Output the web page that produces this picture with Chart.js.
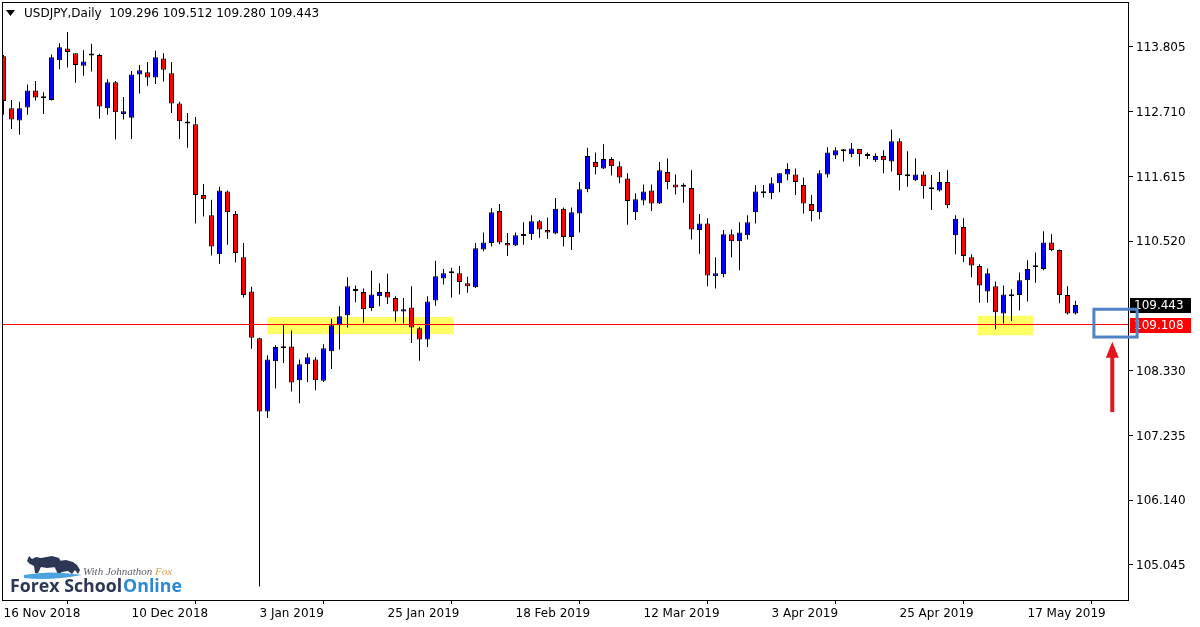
<!DOCTYPE html>
<html>
<head>
<meta charset="utf-8">
<title>USDJPY Daily</title>
<script src="https://cdn.jsdelivr.net/npm/chart.js@4.4.0/dist/chart.umd.min.js"></script>
<style>
body{margin:0;background:#fff;}
canvas{display:block;}
</style>
</head>
<body>
<canvas id="myChart" width="1200" height="627"></canvas>
<script>
// daily candles 16 Nov 2018 -> 22 May 2019
var opens=[113.65,112.77,112.56,112.78,113.07,112.95,112.91,113.58,113.78,113.70,
113.49,113.66,113.67,112.77,113.21,112.67,112.61,113.34,113.38,113.29,
113.61,113.36,112.85,112.52,112.50,111.30,110.96,110.30,111.36,110.98,
110.25,109.67,108.88,107.64,108.49,108.71,108.74,108.17,108.44,108.52,
108.16,108.66,109.10,109.27,109.68,109.66,109.39,109.59,109.66,109.56,
109.33,109.40,109.05,108.86,109.52,109.89,109.98,109.98,109.81,109.74,
110.38,110.49,111.03,110.49,110.45,110.61,110.64,110.86,110.71,110.65,
111.07,110.59,110.99,111.40,111.86,111.75,111.91,111.79,111.58,111.01,
111.21,111.38,111.16,111.69,111.48,111.44,111.42,110.71,110.82,109.93,
109.96,110.64,110.52,110.62,111.01,111.36,111.33,111.50,111.65,111.65,
111.47,111.15,111.01,111.65,111.97,112.04,111.99,112.08,111.99,111.89,
111.96,111.87,112.21,111.62,111.55,111.65,111.41,111.38,111.52,110.62,
110.76,110.25,110.10,109.67,109.76,109.30,109.62,109.61,109.86,110.11,
110.05,110.50,110.37,109.61,109.296];

var highs=[113.67,112.91,112.88,113.17,113.23,113.04,113.68,113.87,114.06,113.70,
113.75,113.86,113.69,113.26,113.23,112.96,113.40,113.50,113.55,113.74,
113.70,113.55,112.88,112.69,112.62,111.49,111.22,111.44,111.38,111.03,
110.49,109.75,108.89,108.59,108.76,109.11,109.01,108.52,108.62,108.56,
108.78,109.21,109.42,109.91,109.77,109.72,110.02,109.81,109.97,109.59,
109.56,109.76,109.07,109.59,110.19,110.05,110.07,110.10,109.92,110.49,
110.67,111.08,111.15,110.66,110.67,110.84,110.96,110.88,110.92,111.25,
111.09,111.09,111.52,112.10,112.02,112.16,111.94,111.87,111.67,111.33,
111.48,111.48,111.86,111.92,111.65,111.50,111.72,110.98,110.91,110.25,
110.71,110.72,110.84,110.96,111.47,111.47,111.60,111.67,111.84,111.75,
111.60,111.30,111.72,112.11,112.11,112.08,112.18,112.08,112.02,112.01,
112.06,112.41,112.26,112.04,111.92,111.70,111.64,111.69,111.72,110.96,
110.91,110.30,110.13,110.06,109.84,109.77,109.71,109.99,110.20,110.33,
110.69,110.64,110.38,109.76,109.512];

var lows=[112.66,112.42,112.32,112.66,112.90,112.67,112.90,113.43,113.46,113.20,
113.32,113.39,112.59,112.66,112.24,112.58,112.25,113.02,113.15,113.18,
113.22,112.69,112.25,112.10,110.82,110.94,110.28,110.14,110.46,110.16,
109.57,108.70,104.68,107.53,108.03,108.46,107.98,107.78,108.14,108.00,
108.14,108.36,108.69,109.06,109.49,109.14,109.34,109.42,109.46,109.16,
109.13,108.80,108.50,108.73,109.43,109.79,109.57,109.62,109.65,109.73,
110.35,110.43,110.47,110.27,110.44,110.46,110.54,110.58,110.56,110.64,
110.43,110.37,110.67,111.35,111.65,111.74,111.63,111.50,110.80,110.88,
111.13,111.03,111.15,111.40,111.31,111.17,110.55,110.31,109.76,109.72,
109.91,110.25,110.03,110.55,110.82,111.26,111.23,111.35,111.55,111.30,
110.99,110.86,110.89,111.60,111.91,111.87,111.94,111.79,111.91,111.86,
111.67,111.70,111.38,111.44,111.54,111.24,111.05,111.36,111.08,110.30,
110.17,109.91,109.48,109.48,109.03,109.13,109.17,109.35,109.50,109.82,
110.03,110.35,109.47,109.28,109.280];

var closes=[112.89,112.58,112.77,113.07,112.95,112.94,113.63,113.80,113.72,113.50,
113.56,113.67,112.80,113.21,112.70,112.72,113.34,113.41,113.29,113.63,
113.42,112.85,112.55,112.51,111.30,111.23,110.43,111.38,111.01,110.32,
109.61,108.89,107.64,108.52,108.73,108.74,108.13,108.44,108.56,108.17,
108.71,109.10,109.25,109.76,109.69,109.37,109.62,109.66,109.57,109.33,
109.37,109.06,108.86,109.50,109.93,109.98,109.99,109.83,109.76,110.40,
110.50,111.01,110.50,110.45,110.62,110.62,110.86,110.72,110.67,111.07,
110.59,111.01,111.40,111.96,111.77,111.91,111.79,111.60,111.20,111.23,
111.36,111.16,111.72,111.52,111.43,111.45,110.72,110.82,109.94,109.98,
110.64,110.52,110.67,110.84,111.36,111.33,111.50,111.67,111.74,111.52,
111.16,111.03,111.67,112.02,112.06,112.05,112.09,111.99,111.96,111.96,
111.89,112.21,111.64,111.63,111.65,111.45,111.40,111.52,111.13,110.90,
110.27,110.11,109.77,109.98,109.32,109.62,109.59,109.86,110.05,110.08,
110.50,110.37,109.61,109.30,109.443];

// x axis labels sit on every 16th bar
var dateTicks=[0,16,32,48,64,80,96,112,128];
var dateLabels=['16 Nov 2018','10 Dec 2018','3 Jan 2019','25 Jan 2019','18 Feb 2019','12 Mar 2019','3 Apr 2019','25 Apr 2019','17 May 2019'];
var priceTicks=[105.045,106.140,107.235,108.330,110.520,111.615,112.710,113.805];

var header='USDJPY,Daily  109.296 109.512 109.280 109.443';
var lastPrice=109.443;
var linePrice=109.108;

// drawn objects, in bar index / price units: [fromBar,toBar,lowPrice,highPrice]
var zones=[[32.95,56.2,108.95,109.24],[121.8,128.7,108.93,109.26]];
var blueBox=[136.3,141.7,108.90,109.37];
var arrow=[138.6,107.63,108.82];

var bodyData=[];
var wickData=[];
for(var i=0;i<opens.length;i++){
    bodyData.push({x:i,y:[opens[i],closes[i]]});
    wickData.push({x:i,y:[lows[i],highs[i]]});
}

function candleColor(ctx){
    var i=ctx.dataIndex;
    if(closes[i]>=opens[i]){
        return '#0000ff';
    }else{
        return '#ff0000';
    }
}

function drawLogo(ctx){
    ctx.save();
    // bull + bear silhouette
    ctx.fillStyle='#2c3655';
    ctx.beginPath();
    ctx.moveTo(27,561);ctx.lineTo(29,556);ctx.lineTo(32,559);ctx.lineTo(36,557);
    ctx.lineTo(41,558);ctx.lineTo(52,556);ctx.lineTo(59,558);ctx.lineTo(62,564);
    ctx.lineTo(60,573);ctx.lineTo(57,573);ctx.lineTo(56,567);ctx.lineTo(47,568);
    ctx.lineTo(41,567);ctx.lineTo(38,573);ctx.lineTo(35,573);ctx.lineTo(34,566);
    ctx.lineTo(30,564);ctx.closePath();ctx.fill();
    ctx.beginPath();
    ctx.moveTo(54,566);ctx.lineTo(58,561);ctx.lineTo(66,560);ctx.lineTo(73,562);
    ctx.lineTo(77,565);ctx.lineTo(80,570);ctx.lineTo(78,574);ctx.lineTo(75,570);
    ctx.lineTo(72,574);ctx.lineTo(68,571);ctx.lineTo(62,572);ctx.lineTo(59,574);
    ctx.lineTo(56,570);ctx.closePath();ctx.fill();
    // water under them
    ctx.fillStyle='#4aa3df';
    ctx.beginPath();
    ctx.moveTo(24,575);
    ctx.quadraticCurveTo(50,570,82,575);
    ctx.quadraticCurveTo(50,581,24,578);
    ctx.closePath();ctx.fill();

    ctx.textBaseline='alphabetic';
    ctx.textAlign='left';
    ctx.font='italic 11px "Liberation Serif"';
    ctx.fillStyle='#5d5d6d';
    ctx.fillText('With Johnathon',83,575);
    var w1=ctx.measureText('With Johnathon ').width;
    ctx.fillStyle='#e39a4f';
    ctx.fillText('Fox',83+w1,575);

    // fit the brand text to its width in the picture
    var size=17;
    ctx.font='bold '+size+'px "Open Sans"';
    var w=ctx.measureText('Forex SchoolOnline').width;
    size=size*171/w;
    ctx.font='bold '+size.toFixed(2)+'px "Open Sans"';
    ctx.fillStyle='#2c3655';
    ctx.fillText('Forex School',10,592);
    w=ctx.measureText('Forex School').width;
    ctx.fillStyle='#2a8ad6';
    ctx.fillText('Online',10+w+1,592);
    ctx.restore();
}

const decor={
    id:'decor',
    beforeDatasetsDraw(chart){
        var ctx=chart.ctx, x=chart.scales.x, y=chart.scales.y;
        ctx.save();
        ctx.fillStyle='#ffff66';
        zones.forEach(function(z){
            var x1=x.getPixelForValue(z[0]), x2=x.getPixelForValue(z[1]);
            var y1=y.getPixelForValue(z[3]), y2=y.getPixelForValue(z[2]);
            ctx.fillRect(x1,y1,x2-x1,y2-y1);
        });
        ctx.restore();
    },
    afterDatasetsDraw(chart){
        var ctx=chart.ctx, y=chart.scales.y, ca=chart.chartArea;
        ctx.save();
        ctx.strokeStyle='#ff0000';
        ctx.lineWidth=1;
        var py=Math.floor(y.getPixelForValue(linePrice))+0.5;
        ctx.beginPath();
        ctx.moveTo(ca.left,py);ctx.lineTo(ca.right,py);
        ctx.stroke();
        ctx.restore();
    },
    afterDraw(chart){
        var ctx=chart.ctx, x=chart.scales.x, y=chart.scales.y, ca=chart.chartArea;
        ctx.save();
        // frame
        ctx.strokeStyle='#000';
        ctx.lineWidth=1;
        ctx.strokeRect(ca.left+0.5,ca.top+0.5,ca.right-ca.left,ca.bottom-ca.top);

        // header
        ctx.fillStyle='#000';
        ctx.beginPath();
        ctx.moveTo(6,10);ctx.lineTo(15,10);ctx.lineTo(10.5,16);ctx.closePath();ctx.fill();
        ctx.font='12px "DejaVu Sans"';
        ctx.textBaseline='middle';
        ctx.textAlign='left';
        ctx.fillText(header,24,14);

        // price tags on the axis
        var tagX=ca.right+2;
        var p1=y.getPixelForValue(lastPrice);
        ctx.fillStyle='#000';
        ctx.fillRect(tagX,Math.round(p1)-7,61,15);
        ctx.fillStyle='#fff';
        ctx.fillText(lastPrice.toFixed(3),tagX+4,Math.round(p1)+1);
        var p2=y.getPixelForValue(linePrice);
        ctx.fillStyle='#ff0000';
        ctx.fillRect(tagX,Math.round(p2)-7,61,15);
        ctx.fillStyle='#fff';
        ctx.fillText(linePrice.toFixed(3),tagX+4,Math.round(p2)+1);

        // blue box
        ctx.strokeStyle='#5181c6';
        ctx.lineWidth=3;
        var bx1=x.getPixelForValue(blueBox[0]), bx2=x.getPixelForValue(blueBox[1]);
        var by1=y.getPixelForValue(blueBox[3]), by2=y.getPixelForValue(blueBox[2]);
        ctx.strokeRect(bx1,by1,bx2-bx1,by2-by1);

        // red arrow
        var ax=x.getPixelForValue(arrow[0]);
        var ay1=y.getPixelForValue(arrow[1]), ay2=y.getPixelForValue(arrow[2]);
        ctx.fillStyle='#e3161b';
        ctx.fillRect(ax-2,ay2+14,4,ay1-ay2-14);
        ctx.beginPath();
        ctx.moveTo(ax,ay2);ctx.lineTo(ax+6.5,ay2+16);ctx.lineTo(ax-6.5,ay2+16);
        ctx.closePath();ctx.fill();
        ctx.restore();

        drawLogo(ctx);
    }
};

const config={
    type:'bar',
    data:{
        datasets:[
            {
                label:'body',
                data:bodyData,
                backgroundColor:candleColor,
                borderColor:'#000',
                borderWidth:1,
                borderSkipped:false,
                barThickness:5,
                minBarLength:2,
                inflateAmount:0,
                grouped:false,
                order:0
            },
            {
                label:'wick',
                data:wickData,
                backgroundColor:'#000',
                borderWidth:0,
                barThickness:1,
                inflateAmount:0,
                grouped:false,
                order:1
            }
        ]
    },
    options:{
        responsive:false,
        animation:false,
        layout:{padding:{left:2,top:2,right:0,bottom:0}},
        plugins:{legend:{display:false},tooltip:{enabled:false},title:{display:false}},
        scales:{
            x:{
                type:'linear',
                offset:false,
                min:-0.1875,
                max:140.5625,
                border:{display:false},
                grid:{display:true,drawOnChartArea:false,drawTicks:true,tickLength:4,color:'#000',tickColor:'#000'},
                afterBuildTicks:function(scale){
                    scale.ticks=dateTicks.map(function(v){return {value:v};});
                },
                afterFit:function(scale){
                    scale.height=27;
                    scale.paddingLeft=0;
                    scale.paddingRight=0;
                },
                ticks:{
                    autoSkip:false,
                    maxRotation:0,
                    align:'start',
                    padding:3,
                    color:'#000',
                    font:{family:'DejaVu Sans',size:12},
                    callback:function(v){
                        var k=dateTicks.indexOf(v);
                        return k>=0?dateLabels[k]:'';
                    }
                }
            },
            y:{
                position:'right',
                min:104.453,
                max:114.566,
                border:{display:false},
                grid:{display:true,drawOnChartArea:false,drawTicks:true,tickLength:5,color:'#000',tickColor:'#000'},
                afterBuildTicks:function(scale){
                    scale.ticks=priceTicks.map(function(v){return {value:v};});
                },
                afterFit:function(scale){
                    scale.width=72;
                    scale.paddingTop=0;
                    scale.paddingBottom=0;
                },
                ticks:{
                    padding:3,
                    labelOffset:1,
                    color:'#000',
                    font:{family:'DejaVu Sans',size:12},
                    callback:function(v){return v.toFixed(3);}
                }
            }
        }
    },
    plugins:[decor]
};

const myChart=new Chart(document.getElementById('myChart'),config);
</script>
</body>
</html>
